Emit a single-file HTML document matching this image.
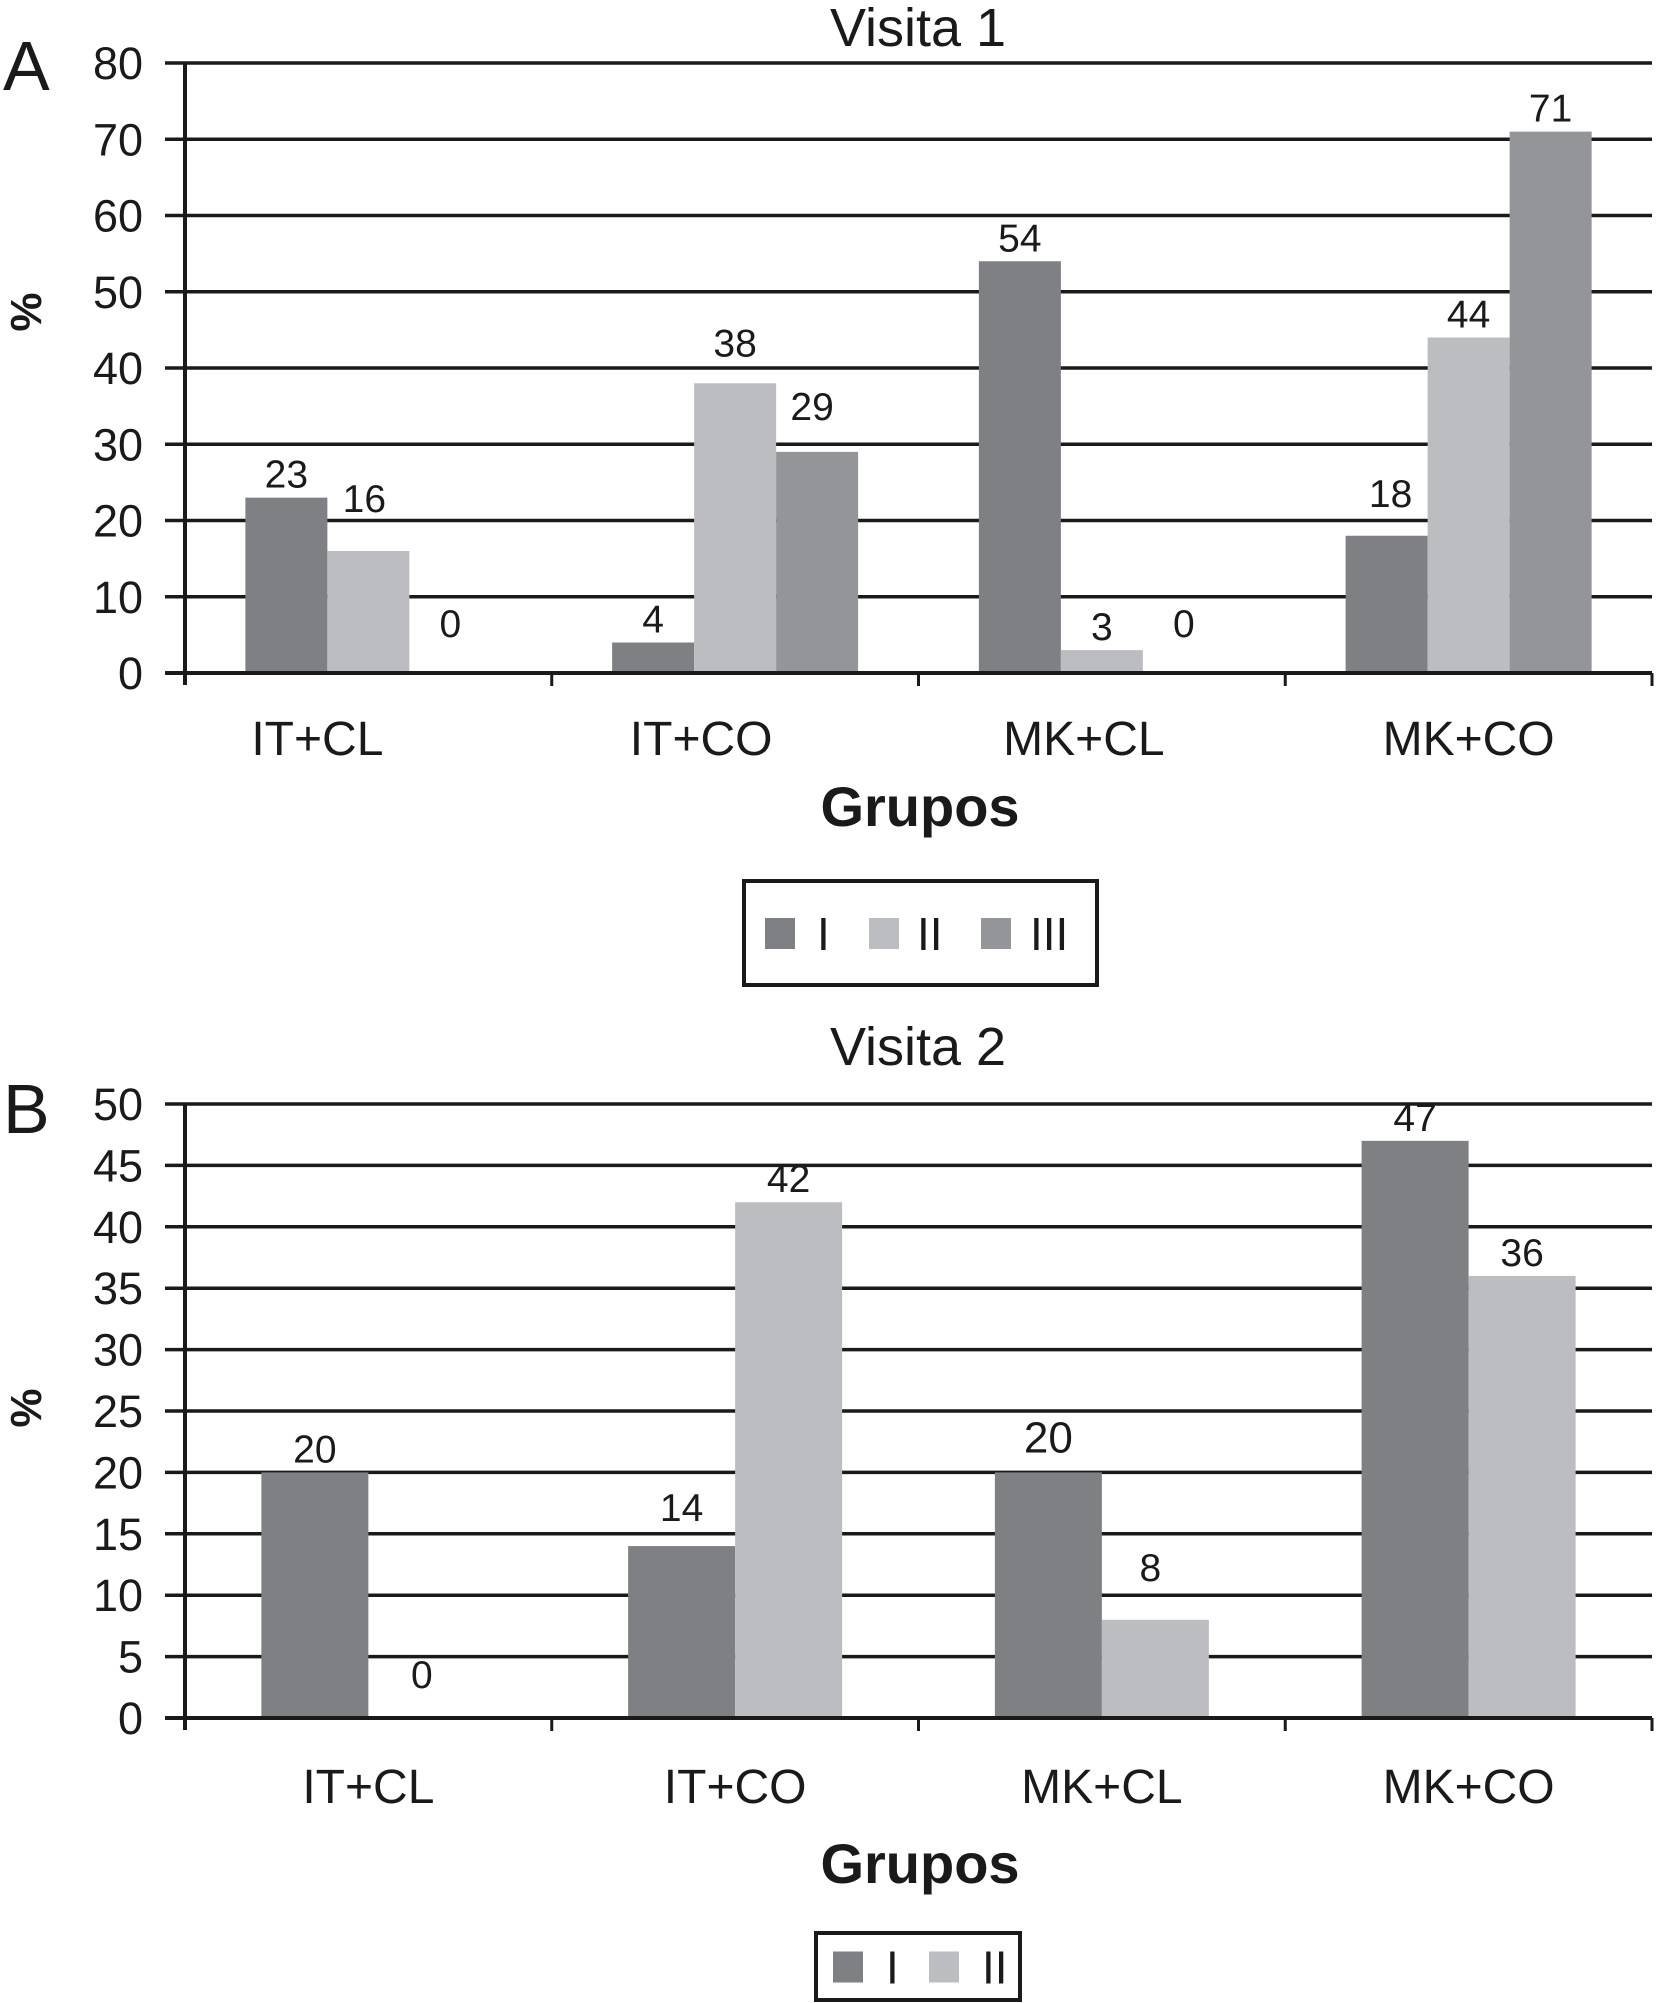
<!DOCTYPE html>
<html><head><meta charset="utf-8"><style>
html,body{margin:0;padding:0;background:#fff;}
svg{display:block;font-family:"Liberation Sans",Arial,sans-serif;}
</style></head><body>
<svg id="chart" width="1658" height="2003" viewBox="0 0 1658 2003" xmlns="http://www.w3.org/2000/svg">
<rect width="1658" height="2003" fill="#fff"/>
</svg>
<script>
const categories = ["IT+CL","IT+CO","MK+CL","MK+CO"];
const seriesNames = ["I","II","III"];
const colors = ["#7f8084","#bcbdc0","#939598"];
const visit1I = [23,4,54,18];
const visit1II = [16,38,3,44];
const visit1III = [0,29,0,71];
const visit2I = [20,14,20,47];
const visit2II = [0,42,8,36];
const ticks1 = [0,10,20,30,40,50,60,70,80];
const ticks2 = [0,5,10,15,20,25,30,35,40,45,50];

const NS = "http://www.w3.org/2000/svg";
const svg = document.getElementById("chart");
function el(tag, attrs, parent, text){
  const e = document.createElementNS(NS, tag);
  for (const k in attrs) e.setAttribute(k, attrs[k]);
  if (text !== undefined) e.textContent = text;
  (parent || svg).appendChild(e);
  return e;
}

function drawChart(cfg){
  const g = el("g", {});
  
  
  const x0 = 185, x1 = 1652, catW = (x1 - x0) / categories.length;
  const maxV = cfg.ticks[cfg.ticks.length - 1];
  const y = v => cfg.yZero - (cfg.yZero - cfg.yTop) * v / maxV;
  cfg.ticks.forEach(t => {
    const ln = el("line", {x1:165, x2:x1, y1:y(t), y2:y(t), stroke:"#1a1a1a", "stroke-width":3.5}, g);
    
    
    const tx = el("text", {x:143, y:y(t)+16, "text-anchor":"end", "font-size":45, fill:"#1a1a1a"}, g, String(t));
    
    
  });
  const ya = el("line", {x1:x0, x2:x0, y1:cfg.yTop, y2:cfg.yZero+12, stroke:"#1a1a1a", "stroke-width":4}, g);
  
  
  const n = cfg.series.length;
  const bw = n === 3 ? 82 : 107;
  const off = (catW - n * bw) / 2;
  cfg.series.forEach((vals, s) => {
    vals.forEach((v, i) => {
      const bx = x0 + i * catW + off + s * bw;
      const r = el("rect", {x:bx, y:y(v), width:bw, height:cfg.yZero - y(v), fill:colors[s]}, g);
      
      
      const nd = cfg.nudge[s + '-' + i] || [0,0,39];
      const ly = (v === 0 ? cfg.yZero - 36 : y(v) - 10) + nd[1];
      const t = el("text", {x:bx + bw/2 + nd[0], y:ly, "text-anchor":"middle", "font-size":nd[2], fill:"#1a1a1a"}, g, String(v));
      
      
    });
  });
  const xa = el("line", {x1:165, x2:x1, y1:cfg.yZero, y2:cfg.yZero, stroke:"#1a1a1a", "stroke-width":4}, g);
  
  
  for (let i = 1; i <= categories.length; i++) {
    const tk = el("line", {x1:x0 + i*catW, x2:x0 + i*catW, y1:cfg.yZero, y2:cfg.yZero+13, stroke:"#1a1a1a", "stroke-width":3}, g);
    
    
  }
  categories.forEach((c, i) => {
    const t = el("text", {x:x0 + (i+0.5)*catW + cfg.catShift[i], y:cfg.catY, "text-anchor":"middle", "font-size":48, fill:"#1a1a1a"}, g, c);
    
    
  });
  const title = el("text", {x:918, y:cfg.titleY, "text-anchor":"middle", "font-size":54, fill:"#1a1a1a"}, g, cfg.title);
  
  
  const pl = el("text", {x:cfg.letterX, y:cfg.letterY, "font-size":70, fill:"#1a1a1a"}, g, cfg.letter);
  
  
  const yt = el("text", {x:0, y:0, "text-anchor":"middle", "font-size":44, "font-weight":"bold", fill:"#1a1a1a", transform:"translate(41," + cfg.pctY + ") rotate(-90)"}, g, "%");
  
  
  const xt = el("text", {x:920, y:cfg.grupY, "text-anchor":"middle", "font-size":56, "font-weight":"bold", fill:"#1a1a1a"}, g, "Grupos");
  
  
  const L = cfg.legend;
  const lg = el("g", {}, g);
  
  
  el("rect", {x:L.x, y:L.y, width:L.w, height:L.h, fill:"none", stroke:"#1a1a1a", "stroke-width":4}, lg);
  L.items.forEach((it, s) => {
    const sw = el("rect", {x:it.sx, y:L.y + L.h/2 - 15, width:30, height:31, fill:colors[s]}, lg);
    
    
    const lt = el("text", {x:it.tx, y:L.y + L.h/2 + 17, "font-size":46, fill:"#1a1a1a"}, lg, seriesNames[s]);
    
    
  });
}

drawChart({
  name:"chart-visita-1", title:"Visita 1", titleY:46, letter:"A", letterX:3, letterY:90,
  yTop:63, yZero:673, ticks:ticks1, series:[visit1I, visit1II, visit1III],
  catShift:[-51,-34,-18,0],
  nudge:{"1-0":[-4,-29,39],"1-1":[0,-17,39],"2-1":[-5,-22,39],"0-3":[4,-19,39]},
  catY:755, grupY:826, pctY:312,
  legend:{x:744, y:881, w:353, h:104, items:[{sx:765,tx:817},{sx:869,tx:917},{sx:981,tx:1030}]}
});
drawChart({
  name:"chart-visita-2", title:"Visita 2", titleY:1065, letter:"B", letterX:3, letterY:1133,
  yTop:1104, yZero:1718, ticks:ticks2, series:[visit2I, visit2II],
  catShift:[0,0,0,0],
  nudge:{"0-1":[0,-15,39],"0-2":[0,-10,44],"1-2":[-5,-29,39],"1-0":[0,6,39]},
  catY:1803, grupY:1883, pctY:1408,
  legend:{x:816, y:1933, w:204, h:67, items:[{sx:833,tx:886},{sx:929,tx:982}]}
});
</script>
</body></html>
